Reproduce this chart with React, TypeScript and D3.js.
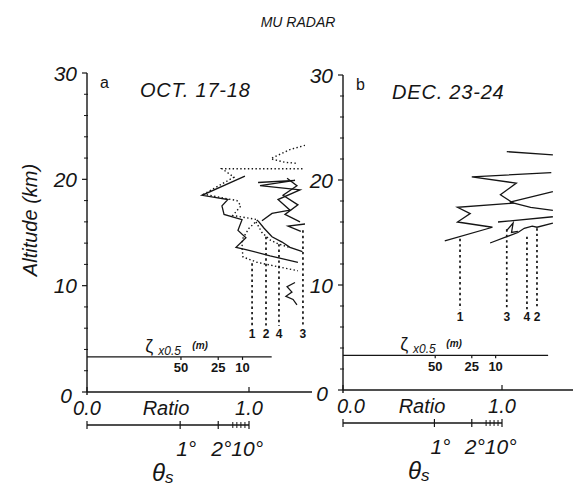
import * as d3 from "d3";

type Pt = [number, number]; // [ratio, altitude km]

// axis values
const altTicks = [0, 10, 20, 30];
const altMinor = [2, 4, 6, 8, 12, 14, 16, 18, 22, 24, 26, 28];
const ratioTicks = [0, 1];
const ratioLabels = ["0.0", "1.0"];
const zetaLabels = ["50", "25", "10"];
const zetaRatios = [0.58, 0.81, 0.96];
const thetaRatios = [0, 0.575, 0.81, 1.0];
const thetaMinor = [0.9, 0.925, 0.95, 0.975];

// panel a: OCT. 17-18
const octSolidA: Pt[] = [[0.975, 20.3], [0.71, 18.5], [0.87, 18.1], [0.833, 17.5], [0.846, 16.7], [0.957, 16.2], [0.932, 15.2], [0.981, 14.5], [0.92, 13.6], [0.981, 13.4], [1.13, 12.8], [1.302, 12.2]];
const octDottedA: Pt[] = [[1.33, 21.0], [0.833, 21.0], [0.907, 20.2], [0.72, 18.6], [0.926, 18.0], [0.95, 17.5], [0.9, 16.6], [1.056, 16.2], [1.0, 15.4], [0.96, 14.4], [0.957, 13.6], [0.963, 12.7], [1.049, 12.2], [1.173, 11.8], [1.302, 11.4]];
const octSolidB: Pt[] = [[1.056, 19.7], [1.284, 19.9], [1.068, 19.4], [1.315, 19.0], [1.179, 18.1], [1.253, 17.1], [1.142, 16.8], [1.08, 16.1]];
const octSolidC: Pt[] = [[1.056, 16.1], [1.093, 15.4], [1.142, 14.6], [1.204, 14.1], [1.253, 13.6], [1.33, 13.2]];
const octDottedC: Pt[] = [[1.043, 16.0], [1.08, 15.0], [1.13, 14.3], [1.185, 13.9], [1.25, 13.6]];
const octSolidD: Pt[] = [[1.346, 15.8], [1.241, 15.6], [1.32, 15.1]];
const octSolidE: Pt[] = [[1.235, 20.1], [1.296, 19.4], [1.21, 18.5], [1.302, 17.6], [1.222, 16.7], [1.315, 16.0]];
const octDottedTop1: Pt[] = [[1.142, 22.0], [1.253, 22.8], [1.346, 23.2]];
const octDottedTop2: Pt[] = [[1.142, 21.9], [1.222, 21.6], [1.3, 21.5]];
const octSquiggle: Pt[] = [[1.284, 10.3], [1.235, 9.9], [1.265, 9.4], [1.228, 9.0], [1.272, 8.7], [1.296, 8.2]];
const octDropLabels = ["1", "2", "4", "3"];
const octDropRatios = [1.019, 1.105, 1.185, 1.333];
const octDropTops = [12.1, 14.6, 13.9, 15.2];

// panel b: DEC. 23-24
const decSolidA: Pt[] = [[0.64, 14.2], [0.94, 15.5], [0.72, 16.0], [0.8, 16.8], [0.72, 17.4], [1.07, 17.8], [0.99, 18.6], [1.09, 19.7], [0.81, 20.3], [1.31, 20.7]];
const decSolidB: Pt[] = [[0.925, 14.0], [1.03, 14.6], [1.1, 15.0], [1.14, 15.4], [1.19, 15.6], [1.22, 15.5], [1.32, 15.9]];
const decSolidC: Pt[] = [[0.975, 16.0], [1.32, 16.5]];
const decSolidD: Pt[] = [[1.03, 15.2], [1.07, 15.9], [1.06, 15.0], [1.1, 15.1]];
const decSolidE: Pt[] = [[1.32, 18.9], [1.05, 17.9], [1.18, 17.4], [1.32, 17.1]];
const decSolidTop: Pt[] = [[1.03, 22.7], [1.32, 22.4]];
const decDropLabels = ["1", "3", "4", "2"];
const decDropRatios = [0.736, 1.03, 1.157, 1.22];
const decDropTops = [14.4, 15.3, 14.6, 15.4];

const INK = "#151515";
const FONT = "'Liberation Sans', Arial, sans-serif";

interface Panel {
  id: string;
  date: string;
  x0: number; x1: number; yTop: number; yBase: number;
  clipX: number; baseEnd: number; zetaEnd: number;
  dateX: number; dateY: number; zeroDx: number;
  solid: Pt[][]; dotted: Pt[][];
  dropLabels: string[]; dropRatios: number[]; dropTops: number[];
  dropBottom: number; dropLabelAlt: number;
}

const panels: Panel[] = [
  {
    id: "a", date: "OCT. 17-18", x0: 87, x1: 249, yTop: 73, yBase: 392,
    clipX: 305, baseEnd: 312, zetaEnd: 1.14, dateX: 140, dateY: 97, zeroDx: 0,
    solid: [octSolidA, octSolidB, octSolidC, octSolidD, octSolidE, octSquiggle],
    dotted: [octDottedA, octDottedC, octDottedTop1, octDottedTop2],
    dropLabels: octDropLabels, dropRatios: octDropRatios, dropTops: octDropTops,
    dropBottom: 6.2, dropLabelAlt: 5.5,
  },
  {
    id: "b", date: "DEC. 23-24", x0: 343, x1: 502, yTop: 75, yBase: 390,
    clipX: 553, baseEnd: 573, zetaEnd: 1.29, dateX: 392, dateY: 99, zeroDx: 8,
    solid: [decSolidA, decSolidB, decSolidC, decSolidD, decSolidE, decSolidTop],
    dotted: [],
    dropLabels: decDropLabels, dropRatios: decDropRatios, dropTops: decDropTops,
    dropBottom: 7.7, dropLabelAlt: 7.0,
  },
];

function PanelView({ p }: { p: Panel }) {
  const x = d3.scaleLinear().domain([0, 1]).range([p.x0, p.x1]);
  const y = d3.scaleLinear().domain([0, 30]).range([p.yBase, p.yTop]);
  const line = d3.line<Pt>().x((d) => x(d[0])).y((d) => y(d[1]));
  const clipId = `clip-${p.id}`;
  const thetaY = p.yBase + 33;
  const zetaAlt = 3.3;

  return (
    <g>
      <defs>
        <clipPath id={clipId}>
          <rect x={p.x0} y={p.yTop} width={p.clipX - p.x0} height={p.yBase - p.yTop} />
        </clipPath>
      </defs>

      {/* y axis */}
      <line x1={p.x0} x2={p.x0} y1={y(30)} y2={p.yBase + 3} stroke={INK} strokeWidth={1.4} />
      {altMinor.map((t) => (
        <line key={t} x1={p.x0 - 3} x2={p.x0 + 1} y1={y(t)} y2={y(t)} stroke={INK} strokeWidth={1} />
      ))}
      {altTicks.map((t) => (
        <g key={t}>
          <line x1={p.x0 - 5} x2={p.x0} y1={y(t)} y2={y(t)} stroke={INK} strokeWidth={1.2} />
          <text x={p.x0 - 10 - (t === 0 ? 5 : 0)} y={y(t) + (t === 0 ? 3 : 0)} textAnchor="end" dominantBaseline="central"
            fontSize={21} fontStyle="italic" fill={INK}>{t}</text>
        </g>
      ))}

      {/* ratio baseline */}
      <line x1={p.x0} x2={p.baseEnd} y1={p.yBase} y2={p.yBase} stroke={INK} strokeWidth={1.6} />
      {ratioTicks.map((t, i) => (
        <g key={t}>
          <line x1={x(t)} x2={x(t)} y1={p.yBase - 5} y2={p.yBase} stroke={INK} strokeWidth={1.2} />
          <text x={x(t) + (i === 0 ? p.zeroDx : 0)} y={p.yBase + 16} textAnchor="middle" dominantBaseline="central"
            fontSize={20} fontStyle="italic" fill={INK}>{ratioLabels[i]}</text>
        </g>
      ))}
      <text x={p.x0 + 79} y={p.yBase + 16} textAnchor="middle" dominantBaseline="central" fontSize={20} fontStyle="italic" fill={INK}>Ratio</text>

      {/* theta scale */}
      <line x1={x(0)} x2={x(1)} y1={thetaY} y2={thetaY} stroke={INK} strokeWidth={1.3} />
      {thetaRatios.map((t) => (
        <line key={t} x1={x(t)} x2={x(t)} y1={thetaY - 4} y2={thetaY + 4} stroke={INK} strokeWidth={1.2} />
      ))}
      {thetaMinor.map((t) => (
        <line key={t} x1={x(t)} x2={x(t)} y1={thetaY - 3} y2={thetaY + 3} stroke={INK} strokeWidth={1} />
      ))}
      <text x={x(thetaRatios[1]) - 4} y={thetaY + 23} fontSize={21} fontStyle="italic" fill={INK} dominantBaseline="central">1°</text>
      <text x={x(thetaRatios[2]) - 7} y={thetaY + 23} fontSize={21} fontStyle="italic" fill={INK} dominantBaseline="central">2°10°</text>
      <text x={p.x0 + 65} y={thetaY + 56} fontSize={24} fontStyle="italic" fill={INK}>
        θ<tspan fontSize={17} dy={2}>s</tspan>
      </text>

      {/* zeta line */}
      <line x1={x(0)} x2={x(p.zetaEnd)} y1={y(zetaAlt)} y2={y(zetaAlt)} stroke={INK} strokeWidth={1.4} />
      {zetaRatios.map((t, i) => (
        <g key={t}>
          <line x1={x(t)} x2={x(t)} y1={y(zetaAlt)} y2={y(zetaAlt) + 3} stroke={INK} strokeWidth={1.2} />
          <text x={x(t)} y={y(zetaAlt) + 11} textAnchor="middle" dominantBaseline="central" fontSize={13} fontWeight="bold" fill={INK}>
            {zetaLabels[i]}
          </text>
        </g>
      ))}
      <text x={x(0.36)} y={y(zetaAlt) - 5} fontSize={18} fill={INK}>ζ</text>
      <text x={x(0.44)} y={y(zetaAlt) - 2} fontSize={12} fontStyle="italic" fill={INK}>x0.5</text>
      <text x={x(0.65)} y={y(zetaAlt) - 8} fontSize={10} fontStyle="italic" fontWeight="bold" fill={INK}>(m)</text>

      {/* panel label and date */}
      <text x={p.x0 + 13} y={y(29.1)} dominantBaseline="central" fontSize={16} fill={INK}>{p.id}</text>
      <text x={p.dateX} y={p.dateY} fontSize={20} letterSpacing={0.8} fontStyle="italic" fill={INK}>{p.date}</text>

      {/* profiles */}
      <g clipPath={`url(#${clipId})`} fill="none" stroke={INK}>
        {p.solid.map((pts, i) => (
          <path key={`s${i}`} d={line(pts) ?? ""} strokeWidth={1.3} />
        ))}
        {p.dotted.map((pts, i) => (
          <path key={`d${i}`} d={line(pts) ?? ""} strokeWidth={1.4} strokeDasharray="1.4 2.4" />
        ))}
        {p.dropRatios.map((r, i) => (
          <line key={`v${i}`} x1={x(r)} x2={x(r)} y1={y(p.dropTops[i])} y2={y(p.dropBottom)} strokeWidth={1.7} strokeDasharray="2.4 3" />
        ))}
      </g>
      {p.dropRatios.map((r, i) => (
        <text key={`l${i}`} x={x(r)} y={y(p.dropLabelAlt)} textAnchor="middle" dominantBaseline="central" fontSize={12} fontWeight="bold" fill={INK}>
          {p.dropLabels[i]}
        </text>
      ))}
    </g>
  );
}

export default function App() {
  return (
    <svg width={573} height={488} viewBox="0 0 573 488" style={{ position: "absolute", left: 0, top: 0, background: "#fff" }} fontFamily={FONT}>
      <rect width={573} height={488} fill="#fff" />
      <text x={298} y={22} textAnchor="middle" dominantBaseline="central" fontSize={14} fontStyle="italic" fill={INK}>MU  RADAR</text>
      <text transform="translate(30,220) rotate(-90)" textAnchor="middle" dominantBaseline="central" fontSize={20} fontStyle="italic" fill={INK}>
        Altitude (km)
      </text>
      {panels.map((p) => (
        <PanelView key={p.id} p={p} />
      ))}
    </svg>
  );
}
